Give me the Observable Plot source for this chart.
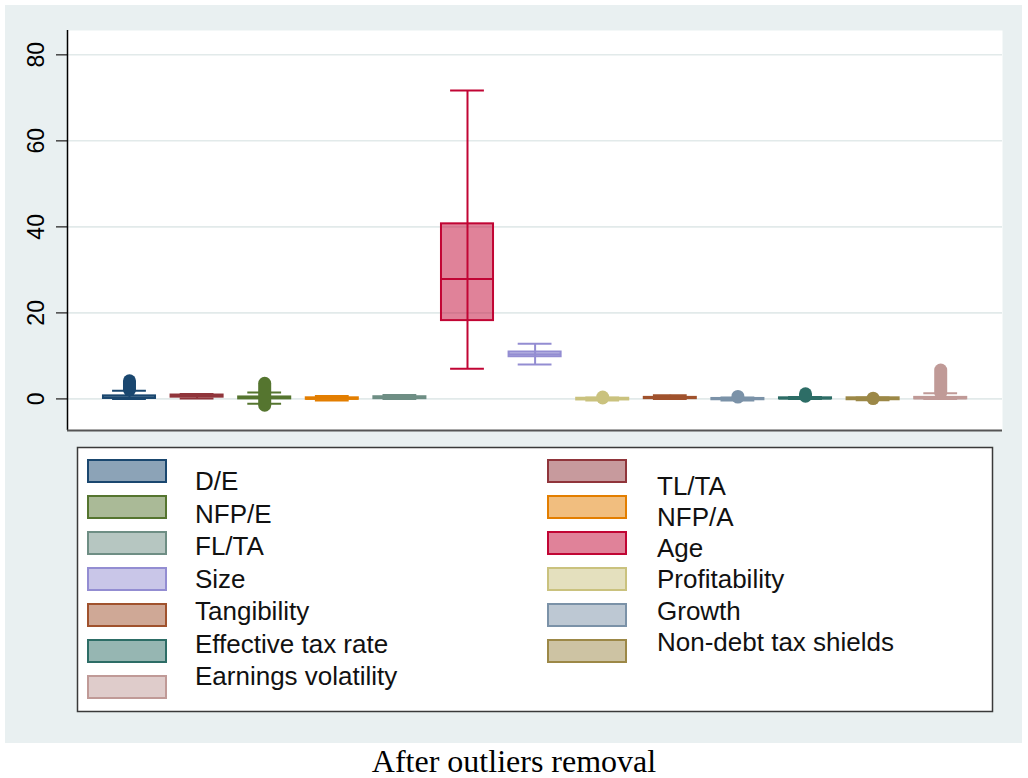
<!DOCTYPE html>
<html><head><meta charset="utf-8">
<script src="https://cdn.jsdelivr.net/npm/d3@7"></script>
<script src="https://cdn.jsdelivr.net/npm/@observablehq/plot@0.6"></script>
<style>
html,body{margin:0;padding:0;background:#fff;}
#page{position:relative;width:1028px;height:778px;overflow:hidden;font-family:"Liberation Sans",Arial,Helvetica,sans-serif;}
#panel{position:absolute;left:5px;top:5px;width:1017px;height:738px;background:#e9f0f1;}
#chart{position:absolute;left:5px;top:5px;}
#legend{position:absolute;left:0;top:0;}
#caption{position:absolute;left:0;width:1028px;top:745px;text-align:center;font-family:"Liberation Serif","Times New Roman",serif;font-size:32px;line-height:32px;color:#000;}
</style></head>
<body><div id="page"><div id="panel"></div><div id="chart"></div><svg id="legend" width="1028" height="778"></svg><div id="caption">After outliers removal</div></div>
<script>
// Categories in plotting order
const categories = ["D/E","TL/TA","NFP/E","NFP/A","FL/TA","Age","Size","Profitability","Tangibility","Growth","Effective tax rate","Non-debt tax shields","Earnings volatility"];
const colors = ["#1a476f","#90353b","#55752f","#e37e00","#6e8e84","#c10534","#938dd2","#cac27e","#a0522d","#7b92a8","#2d6d66","#9c8847","#c09a97"];
// Box statistics
const lowerWhisker = [0.0, 0.1, -1.15, -0.4, 0.0, 7.0, 8.0, -0.4, 0.0, -0.4, 0.0, -0.3, 0.0];
const quartile1    = [0.1, 0.4, 0.0, -0.1, 0.05, 18.2, 9.8, -0.25, 0.05, -0.2, 0.0, -0.2, 0.0];
const medians      = [0.3, 0.65, 0.2, 0.05, 0.2, 27.9, 10.35, 0.0, 0.2, 0.0, 0.1, 0.0, 0.15];
const quartile3    = [0.7, 0.9, 0.45, 0.25, 0.5, 40.7, 10.9, 0.15, 0.35, 0.1, 0.25, 0.25, 0.35];
const upperWhisker = [1.9, 1.15, 1.5, 0.7, 0.9, 71.7, 12.8, 0.3, 0.85, 0.3, 0.45, 0.35, 1.3];
// Range spanned by the outlier markers (null = none)
const outlierMin   = [2.0, null, -1.6, null, null, null, null, 0.1, null, 0.3, 0.5, -0.05, 1.3];
const outlierMax   = [4.1, null, 3.5, null, null, null, null, 0.3, null, 0.45, 1.05, 0.05, 6.6];
const yTicks = [0, 20, 40, 60, 80];

const data = categories.map((name, k) => ({
  name, pos: k + 1, color: colors[k],
  lw: lowerWhisker[k], q1: quartile1[k], med: medians[k], q3: quartile3[k], uw: upperWhisker[k],
  oMin: outlierMin[k], oMax: outlierMax[k]
}));

const boxHalf = 0.385, capHalf = 0.25;
const xDom = [0.083, 13.914], yDom = [-7.35, 85.65];
const col = d => d.color;

const chart = Plot.plot({
  width: 1017, height: 440,
  marginLeft: 62, marginRight: 20, marginTop: 25, marginBottom: 15,
  x: {domain: xDom, axis: null},
  y: {domain: yDom, axis: null},
  color: {type: "identity"},
  style: {background: "transparent", fontFamily: "'Liberation Sans', Arial, Helvetica, sans-serif", color: "black", overflow: "visible"},
  marks: [
    Plot.frame({fill: "white", stroke: "none"}),
    Plot.ruleY(yTicks, {stroke: "#e2eaea", strokeWidth: 1.6}),
    Plot.ruleY(yTicks, {x1: xDom[0], x2: xDom[0], insetLeft: -11, stroke: "#444", strokeWidth: 1.5}),
    Plot.text(yTicks, {frameAnchor: "left", y: d => d, text: d => String(d), rotate: -90, dx: -31, textAnchor: "middle", lineAnchor: "middle", fontSize: 23, fill: "black"}),
    Plot.ruleX(data, {x: "pos", y1: "lw", y2: "uw", stroke: col, strokeWidth: 2}),
    Plot.rect(data, {x1: d => d.pos - boxHalf, x2: d => d.pos + boxHalf, y1: "q1", y2: "q3", fill: col, fillOpacity: 0.5, stroke: col, strokeWidth: 2}),
    Plot.ruleY(data, {y: "med", x1: d => d.pos - boxHalf, x2: d => d.pos + boxHalf, stroke: col, strokeWidth: 2}),
    Plot.ruleY(data, {y: "lw", x1: d => d.pos - capHalf, x2: d => d.pos + capHalf, stroke: col, strokeWidth: 2}),
    Plot.ruleY(data, {y: "uw", x1: d => d.pos - capHalf, x2: d => d.pos + capHalf, stroke: col, strokeWidth: 2}),
    Plot.ruleX(data.filter(d => d.oMin != null), {x: "pos", y1: "oMin", y2: "oMax", stroke: col, strokeWidth: 13, strokeLinecap: "round"}),
    Plot.ruleX([xDom[0]], {stroke: "black", strokeWidth: 1.5}),
    Plot.ruleY([yDom[0]], {stroke: "#555", strokeWidth: 2})
  ]
});
document.getElementById("chart").appendChild(chart);

// Legend (two columns, filled row-wise)
const lg = d3.select("#legend");
lg.append("rect").attr("x", 77.5).attr("y", 447.5).attr("width", 915).attr("height", 264)
  .attr("fill", "white").attr("stroke", "#3a3a3a").attr("stroke-width", 1.5);
categories.forEach((name, k) => {
  const c = k % 2, r = Math.floor(k / 2);
  const sx = c ? 548 : 88, sy = 460 + 36 * r;
  lg.append("rect").attr("x", sx).attr("y", sy).attr("width", 78).attr("height", 22)
    .attr("fill", colors[k]).attr("fill-opacity", 0.5).attr("stroke", colors[k]).attr("stroke-width", 2);
  const tx = c ? 657 : 195, ty = c ? 494.5 + 31.3 * r : 490 + 32.5 * r;
  lg.append("text").attr("x", tx).attr("y", ty).text(name)
    .attr("font-family", "'Liberation Sans', Arial, Helvetica, sans-serif").attr("font-size", 26).attr("fill", "#111");
});
</script>
</body></html>
